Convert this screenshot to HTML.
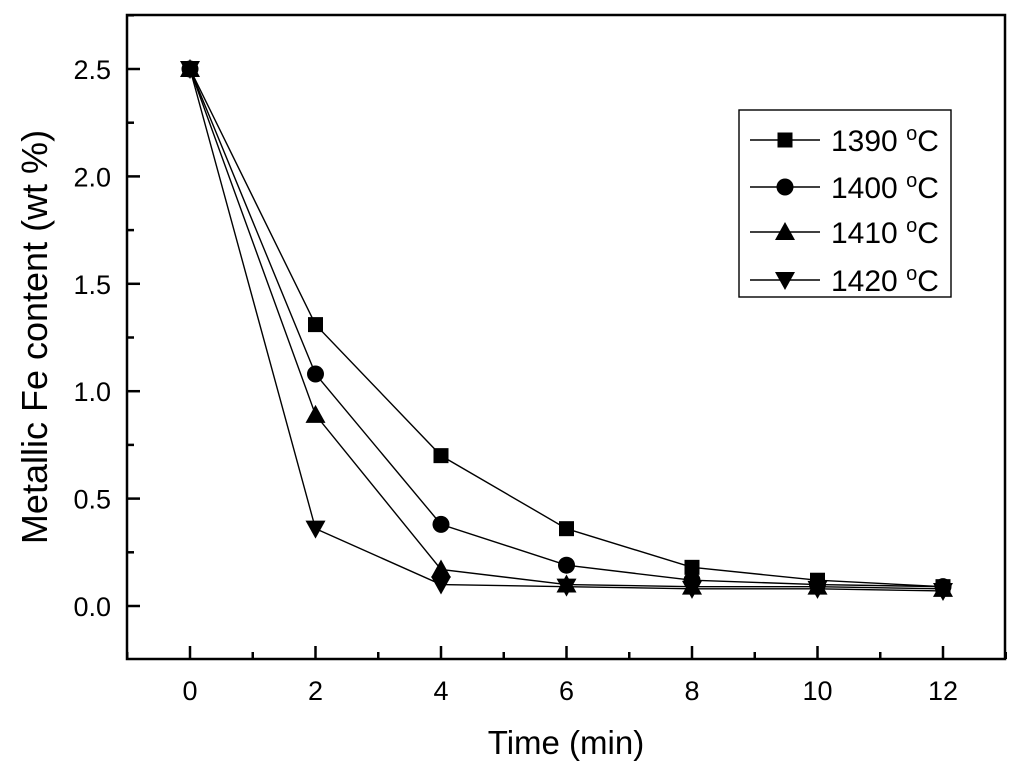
<!DOCTYPE html>
<html><head><meta charset="utf-8"><style>
body{margin:0;background:#fff}
svg text{font-family:"Liberation Sans",Arial,sans-serif;fill:#000}
</style></head><body>
<svg id="chart" width="1024" height="774" xmlns="http://www.w3.org/2000/svg"></svg>
<script>
const times=[0,2,4,6,8,10,12];
const s1390=[2.5,1.31,0.70,0.36,0.18,0.12,0.09];
const s1400=[2.5,1.08,0.38,0.19,0.12,0.10,0.09];
const s1410=[2.5,0.89,0.17,0.10,0.09,0.09,0.08];
const s1420=[2.5,0.36,0.10,0.09,0.08,0.08,0.07];
const seriesNames=["1390","1400","1410","1420"];
const xTicks=[0,2,4,6,8,10,12];
const yTicks=[0.0,0.5,1.0,1.5,2.0,2.5];
const svg=document.getElementById('chart');
const NS='http://www.w3.org/2000/svg';
const L=127,R=1005,T=15,B=659;
const X=v=>190+v*(943-190)/12;
const Y=v=>606-v*(606-69)/2.5;
function mk(tag,a,p){const e=document.createElementNS(NS,tag);for(const k in a)e.setAttribute(k,a[k]);(p||svg).appendChild(e);return e;}
const frame=mk('rect',{x:L,y:T,width:R-L,height:B-T,fill:'none',stroke:'#000','stroke-width':2.5});


const xg=mk('g',{});


for(let v=-1;v<=13;v++){const maj=v%2===0;mk('line',{x1:X(v),x2:X(v),y1:B,y2:B-(maj?13:7),stroke:'#000','stroke-width':2.5},xg);}
xTicks.forEach(v=>{const t=mk('text',{x:X(v),y:700,'text-anchor':'middle','font-size':27},xg);t.textContent=v;

});
const yg=mk('g',{});


for(let v=-0.25;v<=2.75;v+=0.25){const maj=Math.abs(v*2-Math.round(v*2))<1e-6;if(Y(v)<T||Y(v)>B)continue;mk('line',{x1:L,x2:L+(maj?13:7),y1:Y(v),y2:Y(v),stroke:'#000','stroke-width':2.5},yg);}
yTicks.forEach(v=>{const t=mk('text',{x:111,y:Y(v)+10,'text-anchor':'end','font-size':27},yg);t.textContent=v.toFixed(1);

});
const xt=mk('text',{x:566,y:754,'text-anchor':'middle','font-size':33});xt.textContent='Time (min)';


const yt=mk('text',{x:47,y:337,'text-anchor':'middle','font-size':36,transform:'rotate(-90 47 337)'});yt.textContent='Metallic Fe content (wt %)';


function marker(kind,x,y,p){
 if(kind===0)return mk('rect',{x:x-7.5,y:y-7.5,width:15,height:15,fill:'#000'},p);
 if(kind===1)return mk('circle',{cx:x,cy:y,r:8.5,fill:'#000'},p);
 if(kind===2)return mk('polygon',{points:`${x},${y-10} ${x+10},${y+8} ${x-10},${y+8}`,fill:'#000'},p);
 return mk('polygon',{points:`${x},${y+10} ${x+10},${y-8} ${x-10},${y-8}`,fill:'#000'},p);
}
const allSeries=[s1390,s1400,s1410,s1420];
allSeries.forEach((s,i)=>{
 const g=mk('g',{});
 
 
 mk('polyline',{points:s.map((v,j)=>X(times[j])+','+Y(v)).join(' '),fill:'none',stroke:'#000','stroke-width':1.4},g);
 s.forEach((v,j)=>{const m=marker(i,X(times[j]),Y(v),g);
 
 });
});
const lg=mk('g',{});


mk('rect',{x:739,y:110,width:212,height:187,fill:'#fff',stroke:'#000','stroke-width':1.4},lg);
const ly=[140,187,232,280];
seriesNames.forEach((n,i)=>{
 const e=mk('g',{},lg);
 
 
 mk('line',{x1:750,x2:820,y1:ly[i],y2:ly[i],stroke:'#000','stroke-width':1.4},e);
 marker(i,785,ly[i],e);
 const t=mk('text',{x:831,y:ly[i]+11,'font-size':30},e);
 t.innerHTML=n+' <tspan dy="-11" font-size="20">o</tspan><tspan dy="11">C</tspan>';
});
</script>
</body></html>
